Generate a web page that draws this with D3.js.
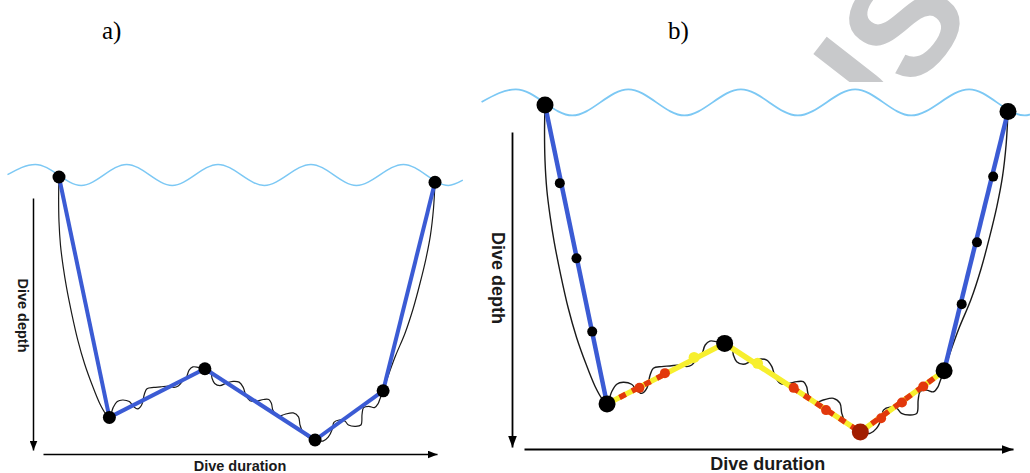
<!DOCTYPE html>
<html><head><meta charset="utf-8">
<script src="https://cdn.jsdelivr.net/npm/d3@7/dist/d3.min.js"></script>
<style>html,body{margin:0;padding:0;background:#fff;overflow:hidden}svg{display:block}</style>
</head><body>
<svg id="chart" width="1030" height="473"></svg>
<script>
// ---------------- DATA (time: % of dive duration, depth: % of max depth) ----------------
const panelLabels = ['a)', 'b)'];
const depthTitle = 'Dive depth';
const durationTitle = 'Dive duration';
const watermarkText = 'ACCEPTED MANUSCRIPT';

// broken-stick knots (inflection points)
const knotTime  = [0, 13.4, 38.8, 68.1, 86.2, 100];
const knotDepth = [0, 91.4, 72.9, 100, 81.3, 2];

// intermediate samples on descent / ascent (panel b)
const descentTime  = [3.2, 6.8, 10.2];
const descentDepth = [23.9, 46.9, 69.3];
const ascentTime   = [90.0, 93.3, 96.8];
const ascentDepth  = [60.9, 42.0, 21.9];

// bottom-phase samples (panel b)
const bottomRedTime     = [20.4, 25.9, 53.7, 60.7, 72.6, 77.1, 81.7];
const bottomRedDepth    = [86.5, 82.0, 86.5, 93.3, 95.8, 91.0, 86.1];
const bottomYellowTime  = [32.2, 45.9];
const bottomYellowDepth = [77.2, 79.0];

// red-dashed portions of each bottom segment (fraction along segment)
const redDashFrom = [0, 0.5, 0];
const redDashTo   = [0.5, 1, 1];

// actual (high-resolution) dive profile
const profileTime = [0,-0.1,0,0.4,1.1,2.0,3.4,5.0,6.8,8.8,10.8,12.4,13.4,
  14.4,15.5,16.9,18.7,19.8,20.9,22.0,22.7,23.4,25.2,27.0,29.2,30.6,31.7,33.0,33.8,34.6,35.6,37.1,38.8,
  40.3,40.7,41.4,42.8,44.6,46.3,47.9,49.0,49.7,50.8,52.3,54.4,55.8,56.5,56.9,58.3,60.1,62.3,63.7,64.1,64.8,66.2,68.0,
  70.2,71.6,72.7,73.1,74.5,76.0,77.0,78.8,80.3,80.6,81.0,82.4,83.9,84.9,85.3,86.2,
  87.2,89.5,92.0,94.2,96.0,97.6,98.8,99.6,100];
const profileDepth = [0,8,17,26,34,42,52,62,71,79,86,90,91.4,
  87.7,85.4,84.8,85.4,87.2,88.2,86.6,82.6,80.5,80.0,79.8,79.5,80.0,79.5,77.4,76.5,73.4,72.2,72.4,72.9,
  73.4,76.5,78.5,79.3,78.3,77.7,78.0,80.0,83.1,85.1,85.3,84.6,84.6,86.1,88.7,91.0,90.2,89.7,91.2,94.3,96.8,98.9,99.9,
  100.4,98.9,95.8,93.3,92.4,92.8,94.3,94.8,94.3,90.2,87.7,87.2,87.7,86.1,84.6,81.3,
  77,68,59.5,50,40.5,31,22,12,2];

// sea surface wave (crests / troughs)
const waveTime  = [-13.7,-6.3,5.9,18.0,30.1,42.3,54.6,67.0,79.1,91.6,103.6,107.4];
const waveDepth = [-0.9,-4.8,3.2,-4.8,3.2,-4.8,3.2,-4.8,3.2,-4.8,3.2,1.2];

// ---------------- LAYOUT / STYLE ----------------
const C = {wave:'#7cc8f4', blue:'#3b5bd4', yellow:'#f7ef2e', red:'#e2380c', darkRed:'#a11d00', grey:'#c8c9cb'};
const panels = [
  {label:0, lx:102, ly:38.5, xRange:[59,435], yRange:[177,440], waveW:1.5, profW:1.2, lineW:4, knotR:6.5,
   yAx:{x:33,y0:198,y1:450}, xAx:{y:454,x0:43,x1:437}, axW:1.5, arrow:[10,8],
   dLab:[17.5,315.5], tLab:[240,470.5], fs:14.5, detailed:false},
  {label:1, lx:668, ly:38.5, xRange:[545,1008], yRange:[105,432], waveW:1.8, profW:1.4, lineW:4.5, knotR:8.5, smallR:5,
   yAx:{x:512,y0:132,y1:447}, xAx:{y:449,x0:524,x1:1013}, axW:1.8, arrow:[12,9],
   dLab:[491.5,278], tLab:[767.7,470], fs:18, detailed:true}
];

const svg = d3.select('#chart');
svg.append('rect').attr('width',1030).attr('height',473).attr('fill','#fff');

// ---------------- WATERMARK ----------------
(function(){
  const F = 150, ang = -52;
  const t = svg.append('text').text(watermarkText)
    .attr('font-family','Liberation Sans, Arial, sans-serif').attr('font-weight','bold')
    .attr('font-size',F).attr('fill',C.grey);
  const iU = watermarkText.indexOf('US');
  const sp = t.node().getStartPositionOfChar(iU);
  const th = ang*Math.PI/180;
  const px = sp.x + 0.57*F, py = -0.716*F;
  const rx = px*Math.cos(th) - py*Math.sin(th), ry = px*Math.sin(th) + py*Math.cos(th);
  t.attr('transform', `translate(${815-rx},${45-ry}) rotate(${ang})`);
  // the two figure images (white) cover the watermark
  svg.append('rect').attr('x',0).attr('y',150).attr('width',463).attr('height',323).attr('fill','#fff');
  svg.append('rect').attr('x',482).attr('y',82).attr('width',548).attr('height',391).attr('fill','#fff');
})();

const defs = svg.append('defs');

panels.forEach((p, pi) => {
  const x = d3.scaleLinear().domain([0,100]).range(p.xRange);
  const y = d3.scaleLinear().domain([0,100]).range(p.yRange);
  const g = svg.append('g');

  const mid = 'arrow' + pi;
  defs.append('marker').attr('id',mid).attr('markerUnits','userSpaceOnUse')
    .attr('markerWidth',p.arrow[0]).attr('markerHeight',p.arrow[1])
    .attr('refX',p.arrow[0]).attr('refY',p.arrow[1]/2).attr('orient','auto')
    .append('path').attr('d',`M0,0L${p.arrow[0]},${p.arrow[1]/2}L0,${p.arrow[1]}Z`).attr('fill','#000');

  svg.append('text').text(panelLabels[p.label]).attr('x',p.lx).attr('y',p.ly)
    .attr('font-family','Liberation Serif, Times New Roman, serif').attr('font-size',25).attr('fill','#000');

  // sea surface
  const idxW = d3.range(waveTime.length);
  g.append('path')
    .attr('d', d3.line().x(i=>x(waveTime[i])).y(i=>y(waveDepth[i])).curve(d3.curveMonotoneX)(idxW))
    .attr('fill','none').attr('stroke',C.wave).attr('stroke-width',p.waveW);

  // axes (arrows) via d3 axes
  const yAxScale = d3.scaleLinear().domain([0,1]).range([p.yAx.y0,p.yAx.y1]);
  const xAxScale = d3.scaleLinear().domain([0,1]).range([p.xAx.x0,p.xAx.x1]);
  const ya = g.append('g').attr('transform',`translate(${p.yAx.x},0)`)
    .call(d3.axisLeft(yAxScale).tickValues([]).tickSizeOuter(0));
  const xa = g.append('g').attr('transform',`translate(0,${p.xAx.y})`)
    .call(d3.axisBottom(xAxScale).tickValues([]).tickSizeOuter(0));
  [ya, xa].forEach(a => a.select('.domain').attr('stroke','#000').attr('stroke-width',p.axW)
    .attr('marker-end',`url(#${mid})`));

  g.append('text').text(depthTitle)
    .attr('transform',`translate(${p.dLab[0]},${p.dLab[1]}) rotate(90)`)
    .attr('text-anchor','middle').attr('font-family','Liberation Sans, Arial, sans-serif')
    .attr('font-weight','bold').attr('font-size',p.fs).attr('fill','#1a1a1a');
  g.append('text').text(durationTitle).attr('x',p.tLab[0]).attr('y',p.tLab[1])
    .attr('text-anchor','middle').attr('font-family','Liberation Sans, Arial, sans-serif')
    .attr('font-weight','bold').attr('font-size',p.fs).attr('fill','#1a1a1a');

  // actual dive profile
  const idxP = d3.range(profileTime.length);
  g.append('path')
    .attr('d', d3.line().x(i=>x(profileTime[i])).y(i=>y(profileDepth[i])).curve(d3.curveCatmullRom.alpha(0.5))(idxP))
    .attr('fill','none').attr('stroke','#1a1a1a').attr('stroke-width',p.profW);

  // broken-stick segments
  d3.range(knotTime.length-1).forEach(s => {
    const bottom = s >= 1 && s <= 3;
    const col = (p.detailed && bottom) ? C.yellow : C.blue;
    g.append('line')
      .attr('x1',x(knotTime[s])).attr('y1',y(knotDepth[s]))
      .attr('x2',x(knotTime[s+1])).attr('y2',y(knotDepth[s+1]))
      .attr('stroke',col).attr('stroke-width', (p.detailed && bottom) ? 5.5 : p.lineW);
    if (p.detailed && bottom) {
      const k = s-1;
      const it = d3.interpolateNumber(knotTime[s], knotTime[s+1]);
      const id = d3.interpolateNumber(knotDepth[s], knotDepth[s+1]);
      g.append('line')
        .attr('x1',x(it(redDashFrom[k]))).attr('y1',y(id(redDashFrom[k])))
        .attr('x2',x(it(redDashTo[k]))).attr('y2',y(id(redDashTo[k])))
        .attr('stroke',C.red).attr('stroke-width',5.5).attr('stroke-dasharray','7 7');
    }
  });

  if (p.detailed) {
    const small = (tt, dd, col, r) => g.append('g').selectAll('circle').data(d3.range(tt.length)).join('circle')
      .attr('cx',i=>x(tt[i])).attr('cy',i=>y(dd[i])).attr('r',r).attr('fill',col);
    small(descentTime, descentDepth, '#000', p.smallR);
    small(ascentTime, ascentDepth, '#000', p.smallR);
    small(bottomRedTime, bottomRedDepth, C.red, 5);
    small(bottomYellowTime, bottomYellowDepth, C.yellow, 5.5);
  }

  g.append('g').selectAll('circle').data(d3.range(knotTime.length)).join('circle')
    .attr('cx',i=>x(knotTime[i])).attr('cy',i=>y(knotDepth[i])).attr('r',p.knotR)
    .attr('fill',i => (p.detailed && knotDepth[i] === d3.max(knotDepth)) ? C.darkRed : '#000');
});
</script>
</body></html>
